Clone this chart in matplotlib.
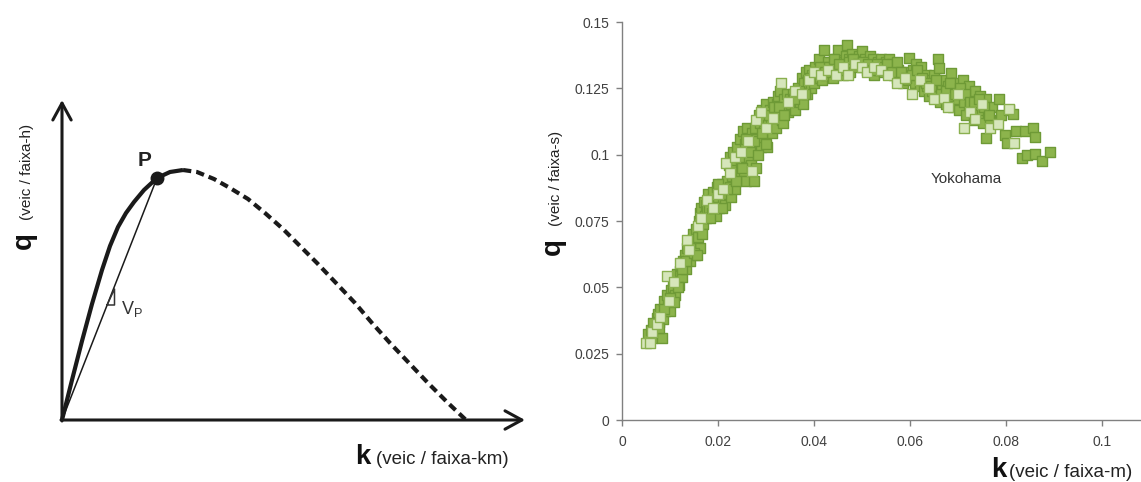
import matplotlib
matplotlib.use("Agg")
import matplotlib.pyplot as plt

plt.rcParams['font.family'] = ['Liberation Sans', 'DejaVu Sans']

# ---------------- data: left conceptual diagram (units relative to origin) ----------------
solid_k = [0, 10, 20, 30, 40, 48, 56, 64, 72, 82, 95, 108, 121]
solid_q = [0, 40, 79, 116, 150, 174, 193, 207, 218, 230, 242, 248, 250]
dashed_k = [121, 135, 152, 168, 186, 203, 221, 238, 255, 274, 293, 310, 328, 347, 366, 385, 404]
dashed_q = [250, 248, 241, 232, 221, 207, 191, 174, 157, 137, 117, 97, 77, 57, 37, 18, 0]
point_P = (95, 242)
secant_k = [0, 95]
secant_q = [0, 242]
tri_k = [45.1, 52.5, 52.5]
tri_q = [115, 115, 131]
axis_k_end = 463
axis_q_end = 320

# ---------------- data: right scatter (Yokohama) ----------------
dark_k = [0.0055,0.0060,0.0063,0.0068,0.0070,0.0072,0.0075,0.0078,0.0080,0.0083,
          0.0085,0.0088,0.0090,0.0093,0.0096,0.0100,0.0103,0.0106,0.0110,0.0112,
          0.0115,0.0118,0.0120,0.0123,0.0126,0.0128,0.0131,0.0134,0.0136,0.0139,
          0.0142,0.0145,0.0147,0.0150,0.0152,0.0155,0.0158,0.0160,0.0162,0.0163,
          0.0165,0.0168,0.0170,0.0172,0.0175,0.0178,0.0180,0.0182,0.0185,0.0188,
          0.0190,0.0193,0.0196,0.0198,0.0200,0.0203,0.0205,0.0208,0.0210,0.0212,
          0.0215,0.0218,0.0220,0.0222,0.0224,0.0226,0.0228,0.0230,0.0232,0.0234,
          0.0236,0.0238,0.0240,0.0242,0.0245,0.0247,0.0250,0.0252,0.0254,0.0256,
          0.0258,0.0260,0.0262,0.0265,0.0268,0.0270,0.0272,0.0275,0.0278,0.0280,
          0.0282,0.0285,0.0288,0.0290,0.0292,0.0295,0.0298,0.0300,0.0302,0.0305,
          0.0308,0.0310,0.0313,0.0315,0.0318,0.0320,0.0323,0.0326,0.0328,0.0330,
          0.0333,0.0335,0.0338,0.0340,0.0343,0.0346,0.0350,0.0353,0.0356,0.0360,
          0.0363,0.0366,0.0370,0.0373,0.0376,0.0378,0.0380,0.0383,0.0386,0.0388,
          0.0390,0.0393,0.0396,0.0400,0.0403,0.0406,0.0410,0.0413,0.0416,0.0420,
          0.0423,0.0426,0.0430,0.0433,0.0436,0.0440,0.0443,0.0446,0.0450,0.0453,
          0.0456,0.0460,0.0463,0.0466,0.0468,0.0470,0.0473,0.0476,0.0480,0.0483,
          0.0486,0.0490,0.0493,0.0496,0.0500,0.0503,0.0506,0.0510,0.0513,0.0516,
          0.0520,0.0523,0.0526,0.0530,0.0533,0.0536,0.0540,0.0543,0.0546,0.0550,
          0.0553,0.0556,0.0560,0.0563,0.0566,0.0570,0.0573,0.0576,0.0580,0.0585,
          0.0590,0.0595,0.0598,0.0602,0.0606,0.0610,0.0613,0.0616,0.0620,0.0623,
          0.0626,0.0630,0.0633,0.0636,0.0640,0.0643,0.0646,0.0650,0.0653,0.0656,
          0.0659,0.0660,0.0663,0.0666,0.0670,0.0673,0.0676,0.0680,0.0683,0.0686,
          0.0690,0.0693,0.0696,0.0700,0.0703,0.0706,0.0710,0.0713,0.0716,0.0720,
          0.0723,0.0726,0.0730,0.0733,0.0736,0.0740,0.0743,0.0746,0.0750,0.0753,
          0.0756,0.0759,0.0762,0.0766,0.0770,0.0758,0.0786,0.0790,0.0798,0.0802,
          0.0806,0.0814,0.0821,0.0833,0.0840,0.0843,0.0856,0.0860,0.0861,0.0875,0.0891]
dark_q = [0.0325,0.0340,0.0310,0.0355,0.0330,0.0385,0.0400,0.0370,0.0420,0.0310,
          0.0380,0.0450,0.0410,0.0470,0.0430,0.0410,0.0490,0.0500,0.0470,0.0530,
          0.0550,0.0510,0.0560,0.0580,0.0540,0.0600,0.0620,0.0570,0.0650,0.0630,
          0.0600,0.0680,0.0700,0.0660,0.0620,0.0720,0.0690,0.0750,0.0780,0.0650,
          0.0800,0.0740,0.0820,0.0770,0.0810,0.0790,0.0850,0.0800,0.0830,0.0780,
          0.0860,0.0820,0.0770,0.0880,0.0840,0.0800,0.0860,0.0890,0.0830,0.0870,
          0.0810,0.0900,0.0850,0.0960,0.0880,0.0990,0.0840,0.0920,0.1010,0.0950,
          0.0870,0.0980,0.1030,0.0920,0.1060,0.0970,0.1000,0.1090,0.0940,0.1040,
          0.0900,0.1100,0.0990,0.1050,0.0960,0.1080,0.1020,0.0900,0.1100,0.0950,
          0.1060,0.1150,0.1120,0.1030,0.1170,0.1090,0.1140,0.1190,0.1030,0.1110,
          0.1170,0.1130,0.1080,0.1200,0.1150,0.1100,0.1190,0.1220,0.1160,0.1240,
          0.1130,0.1120,0.1210,0.1180,0.1230,0.1160,0.1210,0.1190,0.1230,0.1170,
          0.1220,0.1250,0.1200,0.1240,0.1290,0.1190,0.1270,0.1310,0.1230,0.1280,
          0.1320,0.1250,0.1300,0.1270,0.1330,0.1290,0.1360,0.1310,0.1280,0.1395,
          0.1330,0.1300,0.1350,0.1310,0.1330,0.1290,0.1340,0.1360,0.1395,0.1320,
          0.1350,0.1300,0.1340,0.1370,0.1413,0.1330,0.1360,0.1310,0.1380,0.1340,
          0.1360,0.1330,0.1370,0.1350,0.1390,0.1340,0.1360,0.1320,0.1350,0.1370,
          0.1340,0.1360,0.1300,0.1330,0.1350,0.1320,0.1360,0.1340,0.1310,0.1350,
          0.1330,0.1360,0.1320,0.1340,0.1300,0.1330,0.1290,0.1320,0.1300,0.1270,
          0.1310,0.1280,0.1363,0.1290,0.1320,0.1270,0.1340,0.1300,0.1260,0.1330,
          0.1280,0.1240,0.1300,0.1260,0.1220,0.1280,0.1240,0.1300,0.1220,0.1260,
          0.1359,0.1328,0.1200,0.1250,0.1280,0.1230,0.1190,0.1260,0.1220,0.1309,
          0.1180,0.1250,0.1270,0.1210,0.1170,0.1240,0.1280,0.1200,0.1150,0.1230,
          0.1260,0.1180,0.1210,0.1130,0.1240,0.1190,0.1150,0.1220,0.1170,0.1120,
          0.1200,0.1208,0.1160,0.1130,0.1180,0.1064,0.1211,0.1150,0.1076,0.1045,
          0.1170,0.1152,0.1089,0.0989,0.1089,0.0997,0.1101,0.1068,0.1001,0.0976,0.1010]

dark_k_more = [0.0065,0.0077,0.0087,0.0099,0.0109,0.0117,0.0125,0.0133,0.0141,0.0149,
               0.0157,0.0167,0.0174,0.0183,0.0192,0.0201,0.0209,0.0219,0.0227,0.0237,
               0.0244,0.0251,0.0259,0.0267,0.0274,0.0283,0.0291,0.0299,0.0307,0.0317,
               0.0327,0.0337,0.0348,0.0358,0.0368,0.0381,0.0392,0.0402,0.0412,0.0422,
               0.0432,0.0442,0.0452,0.0462,0.0472,0.0482,0.0492,0.0502,0.0512,0.0522,
               0.0532,0.0542,0.0552,0.0562,0.0572,0.0582,0.0592,0.0604,0.0614,0.0624,
               0.0634,0.0644,0.0654,0.0664,0.0674,0.0684,0.0694,0.0704,0.0714,0.0724,
               0.0734,0.0744,0.0754,0.0764]
dark_q_more = [0.0365,0.0345,0.0420,0.0460,0.0445,0.0500,0.0570,0.0600,0.0650,0.0630,
               0.0620,0.0700,0.0760,0.0760,0.0800,0.0890,0.0800,0.0870,0.0930,0.0900,
               0.0990,0.0950,0.1060,0.1010,0.1050,0.1000,0.1080,0.1040,0.1150,0.1180,
               0.1180,0.1150,0.1200,0.1210,0.1240,0.1230,0.1290,0.1310,0.1330,0.1310,
               0.1330,0.1360,0.1340,0.1320,0.1350,0.1360,0.1340,0.1350,0.1340,0.1320,
               0.1340,0.1330,0.1340,0.1310,0.1350,0.1310,0.1290,0.1300,0.1320,0.1290,
               0.1270,0.1260,0.1280,0.1230,0.1240,0.1270,0.1230,0.1250,0.1230,0.1200,
               0.1200,0.1210,0.1180,0.1150]

light_k = [0.0050,0.0058,0.0062,0.0072,0.0080,0.0093,0.0098,0.0108,0.0120,0.0135,
           0.0140,0.0158,0.0165,0.0178,0.0190,0.0200,0.0210,0.0217,0.0225,0.0235,
           0.0248,0.0262,0.0270,0.0280,0.0290,0.0300,0.0315,0.0332,0.0345,0.0360,
           0.0375,0.0390,0.0400,0.0415,0.0430,0.0445,0.0460,0.0470,0.0485,0.0500,
           0.0510,0.0525,0.0540,0.0555,0.0573,0.0590,0.0605,0.0620,0.0640,0.0650,
           0.0671,0.0680,0.0700,0.0713,0.0725,0.0736,0.0750,0.0767,0.0783,0.0806,0.0817]
light_q = [0.0291,0.0291,0.0330,0.0360,0.0390,0.0543,0.0450,0.0520,0.0590,0.0680,
           0.0640,0.0730,0.0760,0.0830,0.0800,0.0850,0.0870,0.0970,0.0930,0.0990,
           0.1010,0.1050,0.0940,0.1130,0.1160,0.1100,0.1140,0.1271,0.1200,0.1240,
           0.1230,0.1280,0.1310,0.1300,0.1320,0.1300,0.1330,0.1300,0.1340,0.1330,
           0.1310,0.1330,0.1320,0.1300,0.1271,0.1290,0.1227,0.1280,0.1250,0.1210,
           0.1215,0.1180,0.1230,0.1101,0.1160,0.1133,0.1190,0.1101,0.1114,0.1173,0.1045]

x_ticks = [0, 0.02, 0.04, 0.06, 0.08, 0.1]
x_tick_labels = ['0', '0.02', '0.04', '0.06', '0.08', '0.1']
y_ticks = [0, 0.025, 0.05, 0.075, 0.1, 0.125, 0.15]
y_tick_labels = ['0', '0.025', '0.05', '0.075', '0.1', '0.125', '0.15']
site_label = "Yokohama"
site_pos = (0.0644, 0.091)

# ---------------- figure ----------------
W, H = 1141, 482
fig = plt.figure(figsize=(W / 100, H / 100), dpi=100)
fig.patch.set_facecolor('white')


def fx(px):
    return px / W


def fy(py):
    return 1 - py / H


# Left conceptual panel (axes covering the whole figure, origin at pixel 62,420)
axL = fig.add_axes([0, 0, 1, 1])
axL.set_xlim(-62, W - 62)
axL.set_ylim(-(H - 420), 420)
axL.axis('off')

ink = '#1a1a1a'
axL.annotate('', xy=(axis_k_end, 0), xytext=(-1, 0),
             arrowprops=dict(arrowstyle='->,head_length=0.55,head_width=0.3',
                             lw=2.2, color=ink, mutation_scale=22, shrinkA=0, shrinkB=0))
axL.annotate('', xy=(0, axis_q_end), xytext=(0, -1),
             arrowprops=dict(arrowstyle='->,head_length=0.55,head_width=0.3',
                             lw=2.2, color=ink, mutation_scale=22, shrinkA=0, shrinkB=0))
axL.plot(secant_k, secant_q, color=ink, lw=1.1)
axL.plot(tri_k + [tri_k[0]], tri_q + [tri_q[0]], color='#333333', lw=1.1)
axL.plot(solid_k, solid_q, color=ink, lw=3.0, solid_capstyle='butt', solid_joinstyle='round')
axL.plot(dashed_k, dashed_q, color=ink, lw=3.0, linestyle=(0, (2.0, 1.2)))
axL.plot([point_P[0]], [point_P[1]], 'o', color=ink, markersize=9)
axL.text(point_P[0] - 12, point_P[1] + 18, 'P', fontsize=15, fontweight='bold',
         color='#222222', ha='center', va='center')
axL.text(59, 111, r'$\mathregular{V_P}$', fontsize=13, color='#333333', ha='left', va='center')

# Left axis labels
fig.text(fx(355), fy(464), 'k', fontsize=20, fontweight='bold', color='#111111',
         ha='left', va='baseline')
fig.text(fx(376), fy(464), '(veic / faixa-km)', fontsize=13.5, color='#222222',
         ha='left', va='baseline')
fig.text(fx(31), fy(249), 'q', fontsize=20, fontweight='bold', color='#111111',
         ha='left', va='baseline', rotation=90, rotation_mode='anchor')
fig.text(fx(31), fy(220), '(veic / faixa-h)', fontsize=11, color='#222222',
         ha='left', va='baseline', rotation=90, rotation_mode='anchor')

# Right scatter panel
axR = fig.add_axes([fx(622), (H - 420) / H, (W - 622) / W, (420 - 22) / H])
axR.set_facecolor('none')
axR.set_xlim(0, (W - 622) / 4800)
axR.set_ylim(0, 0.15)
for s in ['top', 'right']:
    axR.spines[s].set_visible(False)
for s in ['left', 'bottom']:
    axR.spines[s].set_color('#808080')
    axR.spines[s].set_linewidth(1.0)
axR.set_xticks(x_ticks)
axR.set_xticklabels(x_tick_labels)
axR.set_yticks(y_ticks)
axR.set_yticklabels(y_tick_labels)
axR.tick_params(direction='out', length=4, width=1, color='#808080',
                labelsize=10, labelcolor='#404040')
axR.tick_params(axis='x', pad=7)
axR.tick_params(axis='y', pad=5)

axR.scatter(dark_k + dark_k_more, dark_q + dark_q_more, marker='s', s=42,
            facecolor='#8cb44c', edgecolor='#6e9a36', linewidth=1.0, zorder=3, clip_on=False)
axR.scatter(light_k, light_q, marker='s', s=42, facecolor='#d6e6bb',
            edgecolor='#8ab050', linewidth=1.0, zorder=4, clip_on=False)
axR.text(site_pos[0], site_pos[1], site_label, fontsize=11, color='#333333',
         ha='left', va='center')

# Right axis labels
fig.text(fx(991), fy(477), 'k', fontsize=20, fontweight='bold', color='#111111',
         ha='left', va='baseline')
fig.text(fx(1009), fy(477), '(veic / faixa-m)', fontsize=13.5, color='#222222',
         ha='left', va='baseline')
fig.text(fx(560), fy(255), 'q', fontsize=20, fontweight='bold', color='#111111',
         ha='left', va='baseline', rotation=90, rotation_mode='anchor')
fig.text(fx(560), fy(226), '(veic / faixa-s)', fontsize=11, color='#222222',
         ha='left', va='baseline', rotation=90, rotation_mode='anchor')

fig.savefig('out.png', dpi=100, facecolor='white')
